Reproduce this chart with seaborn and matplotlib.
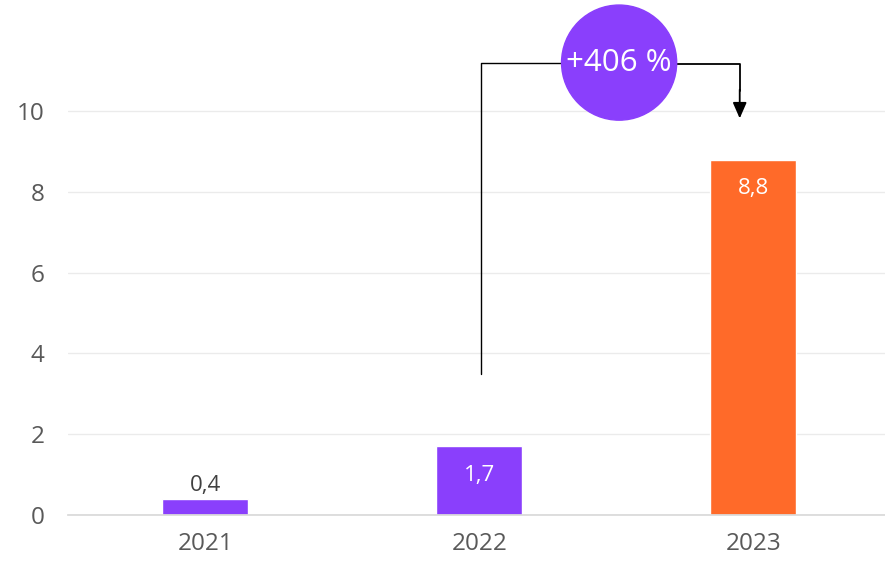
import pandas as pd
import seaborn as sns
import matplotlib.pyplot as plt
from matplotlib.patches import Ellipse

# chart values
years = ['2021', '2022', '2023']
values = [0.4, 1.7, 8.8]
labels = ['0,4', '1,7', '8,8']
bar_colors = ['#8a3ffc', '#8a3ffc', '#ff6a29']
growth_label = '+406 %'

sns.set_theme(style='white')
plt.rcParams['font.family'] = ['Open Sans', 'DejaVu Sans']

df = pd.DataFrame({'year': years, 'value': values})

fig = plt.figure(figsize=(8.85, 5.61), dpi=100)
ax = fig.add_axes([0.077, 0.082, 0.923, 0.918])

sns.barplot(data=df, x='year', y='value', hue='year', palette=bar_colors,
            width=0.314, legend=False, ax=ax, saturation=1)

ax.set_ylim(0, 12.75)
ax.set_xlim(-0.5, 2.48)
ax.set_yticks([0, 2, 4, 6, 8, 10])
ax.yaxis.grid(True, color='#ebebeb', linewidth=1)
ax.set_axisbelow(True)
for s in ['top', 'right', 'left']:
    ax.spines[s].set_visible(False)
ax.spines['bottom'].set_color('#d9d9d9')
ax.set_xlabel('')
ax.set_ylabel('')
ax.tick_params(axis='both', length=0, labelsize=17.5, colors='#595959')
ax.tick_params(axis='x', pad=12)
ax.tick_params(axis='y', pad=17)

# value labels
for i, (v, lab) in enumerate(zip(values, labels)):
    if v < 1:
        ax.text(i, v + 0.08, lab, ha='center', va='bottom', fontsize=16, color='#404040')
    else:
        ax.text(i, v - 0.45, lab, ha='center', va='top', fontsize=16, color='white')

# growth annotation
circ_x, circ_y = 1.51, 11.2
ax.plot([1.007, 1.007, circ_x], [3.5, circ_y, circ_y], color='black', lw=1, zorder=4,
        clip_on=False)
ax.plot([circ_x, 1.95, 1.95], [circ_y - 0.03, circ_y - 0.03, 10.5], color='black', lw=1.3,
        zorder=4, clip_on=False)
ax.annotate('', xy=(1.95, 9.75), xytext=(1.95, 10.6),
            arrowprops=dict(arrowstyle='-|>,head_width=0.35,head_length=0.8', color='black', lw=1.3),
            zorder=4)
ax.add_patch(Ellipse((circ_x, circ_y), 0.42, 2.85, color='#8a3ffc', zorder=5, clip_on=False))
ax.text(circ_x, circ_y, growth_label, ha='center', va='center', fontsize=22.5, color='white',
        zorder=6)

fig.savefig('out.png', dpi=100)
